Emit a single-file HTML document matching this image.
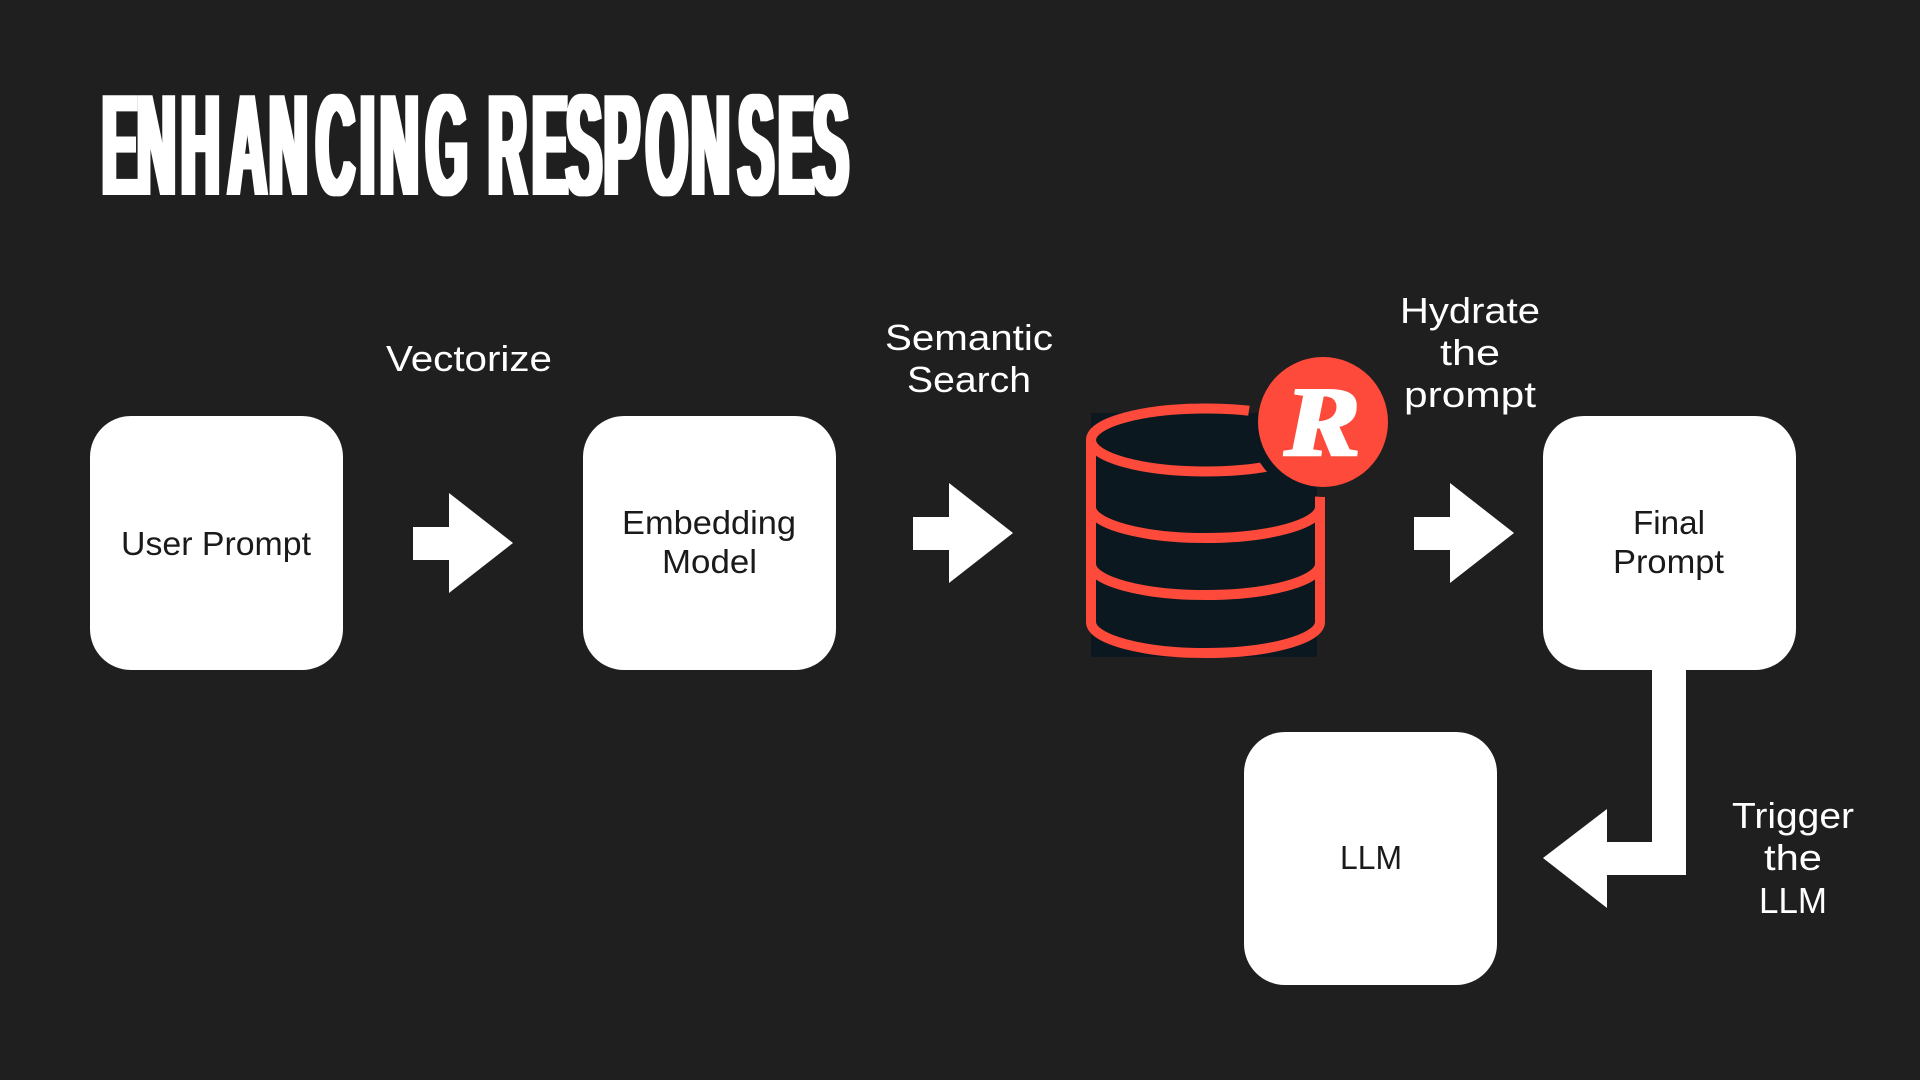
<!DOCTYPE html>
<html lang="en">
<head>
<meta charset="utf-8">
<title>Enhancing Responses</title>
<style>
html,body{margin:0;padding:0;width:1920px;height:1080px;background:#1f1f1f;overflow:hidden}
svg{display:block}
.t{font-family:"Liberation Sans",sans-serif;fill:#fff;font-size:36px}
.b{font-family:"Liberation Sans",sans-serif;fill:#1a1a1a;font-size:33px}
</style>
</head>
<body>
<svg width="1920" height="1080" viewBox="0 0 1920 1080" xmlns="http://www.w3.org/2000/svg">
<defs>
<filter id="fat" x="-5%" y="-5%" width="110%" height="110%" filterUnits="objectBoundingBox"><feMorphology operator="dilate" radius="3 0"/></filter>
<filter id="fat2" x="-10%" y="-10%" width="120%" height="120%"><feMorphology operator="dilate" radius="2 1"/></filter>
<mask id="cut" maskUnits="userSpaceOnUse" x="1060" y="380" width="300" height="300">
<rect x="1060" y="380" width="300" height="300" fill="#fff"/>
<circle cx="1323" cy="422" r="75" fill="#000"/>
</mask>
</defs>
<rect width="1920" height="1080" fill="#1f1f1f"/>

<g filter="url(#fat)">
<text transform="scale(.37 1)" y="195" font-family="Liberation Sans, sans-serif" font-weight="700" font-size="145" fill="#fff" x="275.7 370.3 489.2 616.2 727 854 973 1027 1151 1300 1319 1438 1530 1632 1746 1868 1995 2103 2197">ENHANCING RESPONSES</text>
</g>

<rect x="90" y="416" width="253" height="254" rx="41" fill="#fff"/>
<rect x="583" y="416" width="253" height="254" rx="41" fill="#fff"/>
<rect x="1543" y="416" width="253" height="254" rx="41" fill="#fff"/>
<rect x="1244" y="732" width="253" height="253" rx="41" fill="#fff"/>

<text class="b" x="121" y="555" textLength="190" lengthAdjust="spacingAndGlyphs">User Prompt</text>
<text class="b" x="622" y="534" textLength="174" lengthAdjust="spacingAndGlyphs">Embedding</text>
<text class="b" x="662" y="573" textLength="95" lengthAdjust="spacingAndGlyphs">Model</text>
<text class="b" x="1633" y="534" textLength="72" lengthAdjust="spacingAndGlyphs">Final</text>
<text class="b" x="1613" y="573" textLength="111" lengthAdjust="spacingAndGlyphs">Prompt</text>
<text class="b" x="1340" y="869" textLength="62" lengthAdjust="spacingAndGlyphs">LLM</text>

<text class="t" x="386" y="371" textLength="166" lengthAdjust="spacingAndGlyphs">Vectorize</text>
<text class="t" x="885" y="350" textLength="168" lengthAdjust="spacingAndGlyphs">Semantic</text>
<text class="t" x="907" y="392" textLength="124" lengthAdjust="spacingAndGlyphs">Search</text>
<text class="t" x="1400" y="323" textLength="140" lengthAdjust="spacingAndGlyphs">Hydrate</text>
<text class="t" x="1440" y="365" textLength="60" lengthAdjust="spacingAndGlyphs">the</text>
<text class="t" x="1404" y="407" textLength="132" lengthAdjust="spacingAndGlyphs">prompt</text>
<text class="t" x="1732" y="828" textLength="122" lengthAdjust="spacingAndGlyphs">Trigger</text>
<text class="t" x="1764" y="870" textLength="58" lengthAdjust="spacingAndGlyphs">the</text>
<text class="t" x="1759" y="913" textLength="68" lengthAdjust="spacingAndGlyphs">LLM</text>

<polygon fill="#fff" points="413,527 449,527 449,493 513,543 449,593 449,560 413,560"/>
<polygon fill="#fff" points="913,517 949,517 949,483 1013,533 949,583 949,550 913,550"/>
<polygon fill="#fff" points="1414,517 1450,517 1450,483 1514,533 1450,583 1450,550 1414,550"/>
<polygon fill="#fff" points="1652,668 1686,668 1686,875 1607,875 1607,908 1543,858 1607,809 1607,842 1652,842"/>

<rect x="1091" y="413" width="226" height="244" fill="#0c1820"/>
<g mask="url(#cut)" fill="none" stroke="#fd4a3a" stroke-width="10">
<ellipse cx="1205.5" cy="440" rx="114.5" ry="31.5"/>
<path d="M1091 440V622M1320 440V622"/>
<path d="M1091 507A114.5 31 0 0 0 1320 507"/>
<path d="M1091 564A114.5 31 0 0 0 1320 564"/>
<path d="M1091 622A114.5 31 0 0 0 1320 622"/>
</g>
<circle cx="1323" cy="422" r="65" fill="#fd4a3a"/>
<g filter="url(#fat2)">
<text x="1285" y="455" font-family="Liberation Serif, serif" font-style="italic" font-weight="700" font-size="100" fill="#fff" textLength="75" lengthAdjust="spacingAndGlyphs">R</text>
</g>
</svg>
</body>
</html>
